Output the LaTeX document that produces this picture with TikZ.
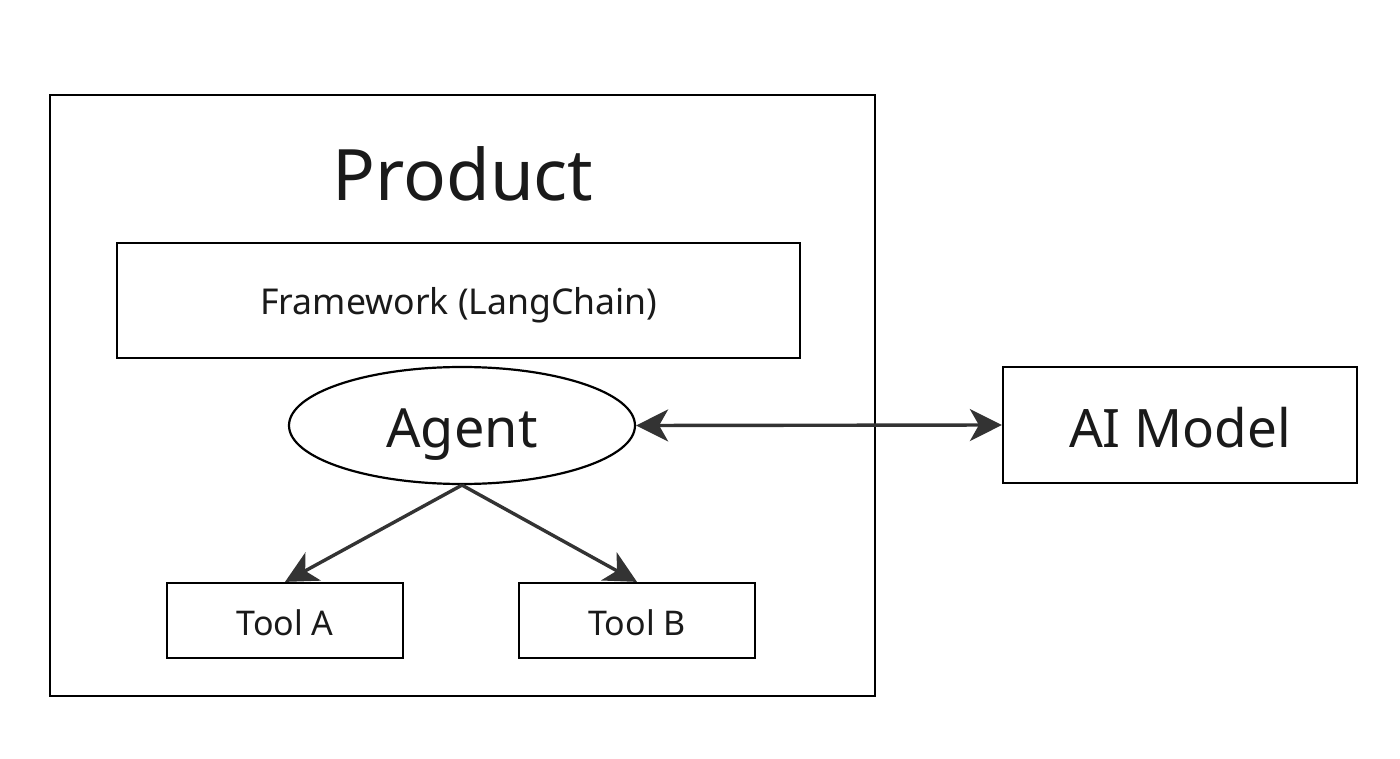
\documentclass[tikz,border=0pt]{standalone}
\usepackage{fontspec}
\setmainfont{Noto Sans}
\usetikzlibrary{arrows.meta,shapes.geometric}
\definecolor{arr}{HTML}{333333}
\definecolor{txt}{HTML}{1A1A1A}
\begin{document}
\begin{tikzpicture}[x=1pt,y=-1pt,
  box/.style={draw=black,line width=2.2pt,inner sep=0pt,text=txt},
  tip/.tip={Stealth[length=32pt,width=32pt,inset=9pt]},
  conn/.style={draw=arr,line width=3.4pt,-tip},
  conn2/.style={draw=arr,line width=3.4pt,tip-tip}]
\useasboundingbox (0,0) rectangle (1400,759);
\node[box,minimum width=825pt,minimum height=601pt] (product) at (462.5,395.5) {};
\node[text=txt] (ptitle) at (463,174) {\fontsize{71pt}{80pt}\selectfont Product};
\node[box,minimum width=683pt,minimum height=115pt] (fw) at (458.5,300.5) {};
\node[text=txt] (fwlbl) at (459,305) {\fontsize{35.6pt}{42pt}\selectfont Framework (LangChain)};
\node[box,ellipse,minimum width=346pt,minimum height=117pt] (agent) at (462,425.5) {};
\node[text=txt] (agentlbl) at (462,435) {\fontsize{54pt}{64pt}\selectfont Agent};
\node[box,minimum width=236pt,minimum height=75pt] (toola) at (285,620.5) {};
\node[text=txt] (toolalbl) at (285,623) {\fontsize{34pt}{40pt}\selectfont Tool A};
\node[box,minimum width=236pt,minimum height=75pt] (toolb) at (637,620.5) {};
\node[text=txt] (toolblbl) at (637,623) {\fontsize{34pt}{40pt}\selectfont Tool B};
\node[box,minimum width=354pt,minimum height=116pt] (ai) at (1180,425) {};
\node[text=txt] (ailbl) at (1180,428) {\fontsize{53pt}{63pt}\selectfont AI Model};
\draw[conn] (agent.south) -- (toola.north);
\draw[conn] (agent.south) -- (toolb.north);
\draw[conn2] (agent.east) -- (ai.west);
\end{tikzpicture}
\end{document}
